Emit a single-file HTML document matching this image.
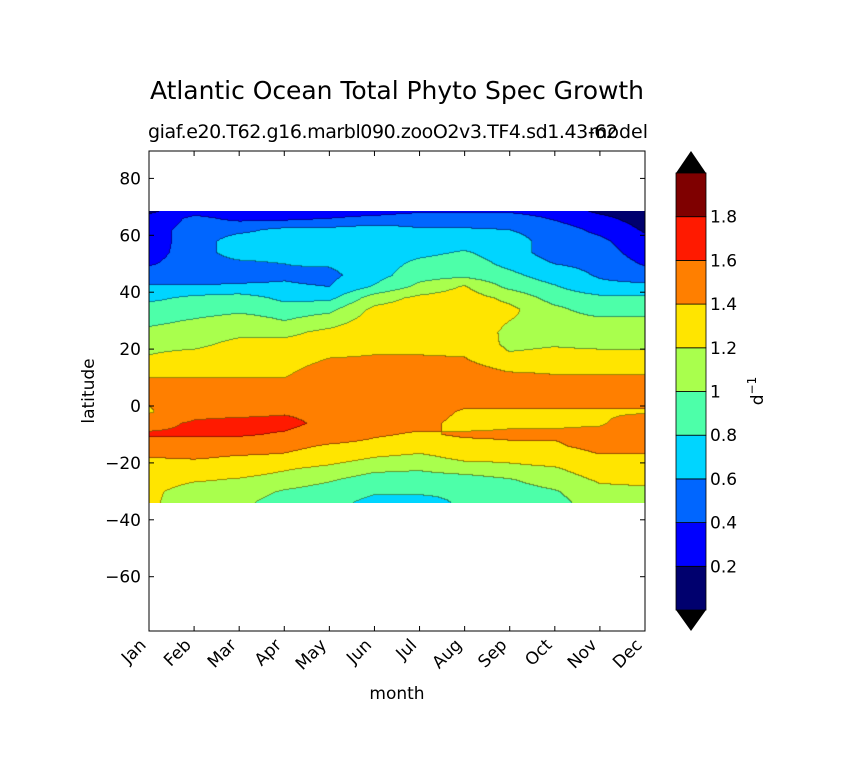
<!DOCTYPE html>
<html><head><meta charset="utf-8"><style>
body{margin:0;background:#fff;width:848px;height:783px;overflow:hidden}
svg text{font-family:"DejaVu Sans","Liberation Sans",sans-serif;fill:#000}
</style></head><body>
<div style="position:relative;width:848px;height:783px">
<canvas id="cv" width="496" height="292" style="position:absolute;left:149px;top:211px"></canvas>
<svg id="sv" width="848" height="783" style="position:absolute;left:0;top:0"></svg>
</div>
<script>
const months=["Jan","Feb","Mar","Apr","May","Jun","Jul","Aug","Sep","Oct","Nov","Dec"];
const lats=[69,66,62,58,54,50,46,42,38,34,30,26,22,18,14,10,6,2,-2,-6,-10,-14,-18,-22,-26,-30,-34];
const vJan=[0.15,0.25,0.3,0.3,0.32,0.38,0.5,0.62,0.75,0.9,0.95,1.05,1.15,1.2,1.3,1.4,1.5,1.42,1.38,1.55,1.62,1.5,1.4,1.3,1.3,1.25,1.25];
const vFeb=[0.3,0.45,0.5,0.5,0.5,0.5,0.5,0.62,0.85,0.9,1.02,1.1,1.15,1.25,1.3,1.4,1.5,1.5,1.55,1.62,1.62,1.5,1.42,1.3,1.22,1.1,1.05];
const vMar=[0.3,0.35,0.55,0.7,0.7,0.55,0.55,0.62,0.9,0.95,1.1,1.15,1.25,1.3,1.35,1.4,1.5,1.5,1.55,1.65,1.62,1.5,1.38,1.3,1.18,1.1,1.05];
const vApr=[0.3,0.35,0.65,0.7,0.7,0.6,0.58,0.62,0.75,0.9,1.0,1.15,1.25,1.3,1.35,1.4,1.5,1.5,1.58,1.65,1.58,1.45,1.37,1.22,1.12,0.98,0.9];
const vMay=[0.3,0.4,0.65,0.7,0.7,0.62,0.55,0.6,0.75,0.95,1.1,1.25,1.3,1.38,1.45,1.5,1.5,1.5,1.55,1.55,1.5,1.38,1.3,1.15,1.02,0.9,0.85];
const vJun=[0.3,0.45,0.7,0.7,0.7,0.7,0.72,0.82,1.1,1.25,1.3,1.35,1.38,1.4,1.45,1.5,1.5,1.5,1.5,1.45,1.42,1.35,1.2,1.05,0.9,0.82,0.75];
const vJul=[0.35,0.5,0.62,0.7,0.75,0.85,0.92,1.05,1.25,1.3,1.3,1.35,1.38,1.4,1.45,1.5,1.5,1.5,1.48,1.45,1.38,1.3,1.15,1.02,0.9,0.82,0.75];
const vAug=[0.35,0.5,0.62,0.7,0.82,0.9,0.95,1.22,1.3,1.3,1.35,1.35,1.38,1.39,1.45,1.5,1.5,1.45,1.38,1.35,1.42,1.35,1.25,1.1,0.9,0.82,0.82];
const vSep=[0.35,0.5,0.6,0.7,0.7,0.75,0.85,0.95,1.15,1.25,1.2,1.15,1.15,1.22,1.35,1.45,1.5,1.45,1.38,1.38,1.42,1.38,1.25,1.15,0.98,0.9,0.88];
const vOct=[0.3,0.38,0.5,0.5,0.5,0.6,0.7,0.82,0.92,1.05,1.1,1.15,1.18,1.25,1.35,1.42,1.5,1.45,1.38,1.38,1.42,1.38,1.3,1.18,1.1,0.98,0.92];
const vNov=[0.15,0.25,0.35,0.45,0.5,0.55,0.58,0.65,0.85,0.9,1.05,1.1,1.15,1.25,1.35,1.42,1.5,1.45,1.38,1.38,1.45,1.45,1.38,1.3,1.22,1.15,1.12];
const vDec=[0.1,0.12,0.18,0.25,0.3,0.38,0.5,0.65,0.85,0.9,1.05,1.1,1.15,1.25,1.35,1.42,1.5,1.45,1.38,1.5,1.5,1.45,1.38,1.3,1.25,1.15,1.12];
const levels=[0,0.2,0.4,0.6,0.8,1.0,1.2,1.4,1.6,1.8,2.0];
const colorbarLabels=["0.2","0.4","0.6","0.8","1","1.2","1.4","1.6","1.8"];
const yTicks=[80,60,40,20,0,-20,-40,-60];
const colors=["#00006e","#0000ff","#0066ff","#00d5ff","#4dffa9","#a9ff4d","#ffe500","#ff7f00","#ff1a00","#7f0000"];
const grid=[vJan,vFeb,vMar,vApr,vMay,vJun,vJul,vAug,vSep,vOct,vNov,vDec];

const X0=149,X1=645,Y0=151,Y1=631;
const xs=m=>X0+m*(X1-X0)/11;
const ys=l=>406-l*2.845;
const cy=v=>610-v*(610-173)/2;

const cv=document.getElementById('cv'),ctx=cv.getContext('2d');
const W=cv.width,H=cv.height,img=ctx.createImageData(W,H);
function hex(c){return [parseInt(c.substr(1,2),16),parseInt(c.substr(3,2),16),parseInt(c.substr(5,2),16)];}
const rgb=colors.map(hex);
function val(px,py){
  const m=Math.min(11,Math.max(0,px*11/(W-1)));
  const lat=(406-(py+211))/2.845;
  let i=0;while(i<lats.length-2&&lat<lats[i+1])i++;
  const t=Math.max(0,Math.min(1,(lats[i]-lat)/(lats[i]-lats[i+1])));
  const m0=Math.min(10,Math.floor(m)),u=m-m0;
  const a=grid[m0][i]*(1-t)+grid[m0][i+1]*t,b=grid[m0+1][i]*(1-t)+grid[m0+1][i+1]*t;
  return a*(1-u)+b*u;
}
function lev(v){let k=Math.floor(v/0.2);return Math.max(0,Math.min(9,k));}
const L=[];
for(let y=0;y<H;y++){L[y]=[];for(let x=0;x<W;x++)L[y][x]=lev(val(x,y));}
for(let y=0;y<H;y++)for(let x=0;x<W;x++){
  const k=L[y][x];let c=rgb[k].slice();
  if((x<W-1&&L[y][x+1]!==k)||(y<H-1&&L[y+1][x]!==k)){c=c.map(q=>q*0.6);}
  const o=(y*W+x)*4;img.data[o]=c[0];img.data[o+1]=c[1];img.data[o+2]=c[2];img.data[o+3]=255;
}
ctx.putImageData(img,0,0);

const NS='http://www.w3.org/2000/svg',sv=document.getElementById('sv');
function el(t,a,txt){const e=document.createElementNS(NS,t);for(const k in a)e.setAttribute(k,a[k]);if(txt!==undefined)e.textContent=txt;sv.appendChild(e);return e;}

let e=el('text',{x:397,y:99,'font-size':25,'text-anchor':'middle','textLength':494},'Atlantic Ocean Total Phyto Spec Growth');


e=el('text',{x:148,y:138,'font-size':19,'textLength':470},'giaf.e20.T62.g16.marbl090.zooO2v3.TF4.sd1.43-62');


e=el('text',{x:648,y:138,'font-size':19,'text-anchor':'end'},'model');



e=el('rect',{x:X0,y:Y0,width:X1-X0,height:Y1-Y0,fill:'none',stroke:'#000','stroke-width':1});



yTicks.forEach(t=>{
  const y=ys(t);
  let a=el('line',{x1:X0,x2:X0+5,y1:y,y2:y,stroke:'#000'});
  
  
  a=el('line',{x1:X1,x2:X1-5,y1:y,y2:y,stroke:'#000'});
  
  
  a=el('text',{x:141,y:y+6,'font-size':17,'text-anchor':'end'},(t<0?'\u2212'+(-t):String(t)));
  
  
});
months.forEach((m,i)=>{
  const x=xs(i);
  let a=el('line',{x1:x,x2:x,y1:Y1,y2:Y1-5,stroke:'#000'});
  
  
  a=el('line',{x1:x,x2:x,y1:Y0,y2:Y0+5,stroke:'#000'});
  
  
  a=el('text',{x:x-2,y:Y1+15,'font-size':17,'text-anchor':'end',transform:`rotate(-45 ${x-2} ${Y1+15})`},m);
  
  
});
e=el('text',{x:397,y:699,'font-size':17,'text-anchor':'middle'},'month');


e=el('text',{x:94,y:391,'font-size':17,'text-anchor':'middle',transform:'rotate(-90 94 391)'},'latitude');



for(let k=0;k<10;k++){
  const r=el('rect',{x:676,y:cy(levels[k+1]),width:30,height:cy(levels[k])-cy(levels[k+1]),fill:colors[k],stroke:'#000','stroke-width':0.8});
  
  
}
e=el('polygon',{points:`676,${cy(2)} 706,${cy(2)} 691,151`,fill:'#000'});


e=el('polygon',{points:`676,${cy(0)} 706,${cy(0)} 691,631`,fill:'#000'});


colorbarLabels.forEach((s,i)=>{
  const y=cy(levels[i+1]);
  const t=el('text',{x:710,y:y+6,'font-size':17},s);
  
  
});
e=el('text',{x:763,y:391,'font-size':17,'text-anchor':'middle',transform:'rotate(-90 763 391)'});
e.innerHTML='d<tspan dy="-7" font-size="12">\u22121</tspan>';


</script>
</body></html>
